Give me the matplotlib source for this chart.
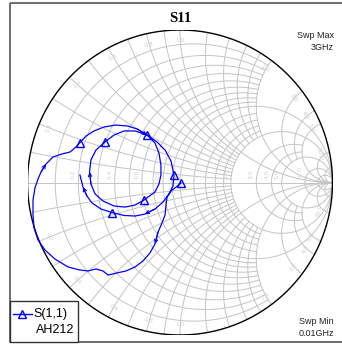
import numpy as np
import matplotlib
matplotlib.use('Agg')
import matplotlib.pyplot as plt
from matplotlib.patches import Rectangle

# ---- data: S11 reflection coefficient along the sweep 0.01 GHz -> 3 GHz ----
s11_re = [0.007, -0.026, -0.059, -0.085, -0.092, -0.098, -0.118, -0.144, -0.164, -0.197,
          -0.243, -0.295, -0.354, -0.413, -0.472, -0.505, -0.551, -0.603, -0.656, -0.734,
          -0.820, -0.885, -0.931, -0.957, -0.964, -0.964, -0.951, -0.931, -0.911, -0.879,
          -0.833, -0.774, -0.721, -0.682, -0.656, -0.616, -0.564, -0.498, -0.420, -0.341,
          -0.282, -0.216, -0.164, -0.138, -0.125, -0.125, -0.138, -0.164, -0.236, -0.295,
          -0.361, -0.433, -0.505, -0.557, -0.584, -0.593, -0.584, -0.551, -0.492, -0.433,
          -0.367, -0.295, -0.216, -0.151, -0.098, -0.059, -0.039, -0.046, -0.072, -0.111,
          -0.164, -0.230, -0.295, -0.367, -0.446, -0.518, -0.577, -0.610, -0.636, -0.656]
s11_im = [-0.003, -0.030, -0.056, -0.095, -0.148, -0.213, -0.266, -0.325, -0.403, -0.462,
          -0.515, -0.554, -0.580, -0.593, -0.607, -0.580, -0.567, -0.580, -0.574, -0.554,
          -0.502, -0.443, -0.377, -0.298, -0.213, -0.115, -0.036, 0.023, 0.069, 0.121,
          0.167, 0.187, 0.200, 0.233, 0.262, 0.305, 0.338, 0.364, 0.377, 0.370,
          0.351, 0.311, 0.259, 0.193, 0.115, 0.049, -0.010, -0.062, -0.115, -0.148,
          -0.161, -0.154, -0.121, -0.075, -0.010, 0.069, 0.148, 0.213, 0.266, 0.311,
          0.338, 0.338, 0.311, 0.266, 0.213, 0.141, 0.046, -0.023, -0.075, -0.128,
          -0.174, -0.207, -0.220, -0.216, -0.197, -0.174, -0.134, -0.089, -0.030, 0.049]
marker_idx = [0, 34, 41, 48, 58, 66, 74]
arrow_idx = [7, 28, 40, 54, 70, 77]

trace_name = "S(1,1)"
trace_source = "AH212"
title = "S11"
sweep_max = ["Swp Max", "3GHz"]
sweep_min = ["Swp Min", "0.01GHz"]

# grid values: (value, limit of the other coordinate)
grid_vals = [(0.1, 2), (0.2, 2), (0.3, 2), (0.4, 2), (0.5, 2), (0.6, 2), (0.7, 2), (0.8, 2),
             (0.9, 2), (1.0, np.inf), (1.2, 2), (1.4, 2), (1.6, 2), (1.8, 2), (2.0, np.inf),
             (3.0, 5), (4.0, 5), (5.0, np.inf), (10.0, np.inf), (20.0, 50)]
label_vals = [0.2, 0.4, 0.6, 0.8, 1.0, 2.0, 3.0, 4.0, 5.0, 10.0]

W, H = 342, 344
fig = plt.figure(figsize=(W / 100, H / 100), dpi=100)
cx, cy, R = 180.0, 182.5, 152.5

ov = fig.add_axes([0, 0, 1, 1])
ov.set_xlim(0, W)
ov.set_ylim(H, 0)
ov.axis('off')

ax = fig.add_axes([(cx - R) / W, (H - cy - R) / H, 2 * R / W, 2 * R / H])
ax.set_xlim(-1, 1)
ax.set_ylim(-1, 1)
ax.axis('off')

gcol = '#c4c4c4'
glw = 0.7


def gam(z):
    return (z - 1) / (z + 1)


def tparam(a, b, n=400):
    return np.tan(np.linspace(np.arctan(a), np.arctan(b), n))


for v, lim in grid_vals:
    xs = tparam(-lim, lim)
    g = gam(v + 1j * xs)
    ax.plot(g.real, g.imag, color=gcol, lw=glw, zorder=1)
    rs = tparam(0, lim)
    for s in (1, -1):
        g = gam(rs + 1j * s * v)
        ax.plot(g.real, g.imag, color=gcol, lw=glw, zorder=1)

ax.plot([-1, 1], [0, 0], color=gcol, lw=glw, zorder=1)
th = np.linspace(0, 2 * np.pi, 600)
ax.plot(np.cos(th), np.sin(th), color='black', lw=1.0, zorder=2)

lcol = '#cfcfcf'
for v in label_vals:
    gr = gam(v)
    ax.text(gr.real - 0.015, 0.02, f"{v:.1f}", rotation=90, ha='right', va='bottom',
            fontsize=4.2, color=lcol, zorder=1.5)
    for s in (1, -1):
        g = gam(1j * s * v)
        ang = np.angle(g)
        p = 0.93 * g
        rot = np.degrees(ang) - 90
        if rot < -90:
            rot += 180
        if rot > 90:
            rot -= 180
        ax.text(p.real, p.imag, f"{v:.1f}", rotation=rot, ha='center', va='center',
                fontsize=4.2, color=lcol, zorder=1.5)

re = np.array(s11_re)
im = np.array(s11_im)
ax.plot(re, im, color='#0000ff', lw=0.9, zorder=3)
ax.plot(re[marker_idx], im[marker_idx], ls='none', marker='^', ms=6, mfc='none',
        mec='#0000ff', mew=1.0, zorder=4)
for i in arrow_idx:
    ax.annotate('', xy=(re[i + 1], im[i + 1]), xytext=(re[i], im[i]),
                arrowprops=dict(arrowstyle='->', color='#0000ff', lw=0.8,
                                mutation_scale=6, shrinkA=0, shrinkB=0), zorder=4)

ov.add_patch(Rectangle((9.5, 3), 340, 338.5, fill=False, edgecolor='#555555', lw=1.2))
ov.text(180, 18, title, ha='center', va='center', fontsize=10.5, fontweight='bold',
        family='Liberation Serif')
for txt, y in ((sweep_max[0], 35), (sweep_max[1], 47), (sweep_min[0], 321), (sweep_min[1], 333)):
    ov.text(334, y, txt, ha='right', va='center', fontsize=6.5, family='Liberation Sans',
            color='#222222')

ov.add_patch(Rectangle((9.5, 301), 68.5, 40.5, facecolor='white', edgecolor='#333333', lw=1.0, zorder=5))
ov.plot([13, 32], [313.5, 313.5], color='#0000ff', lw=1.0, zorder=6)
ov.plot([22], [313.5], marker='^', ms=6, mfc='none', mec='#0000ff', mew=1.0, zorder=6)
ov.text(33, 314, trace_name, ha='left', va='center', fontsize=9, family='Liberation Sans', zorder=6)
ov.text(36, 330, trace_source, ha='left', va='center', fontsize=9, family='Liberation Sans', zorder=6)

fig.savefig('out.png', dpi=100)
